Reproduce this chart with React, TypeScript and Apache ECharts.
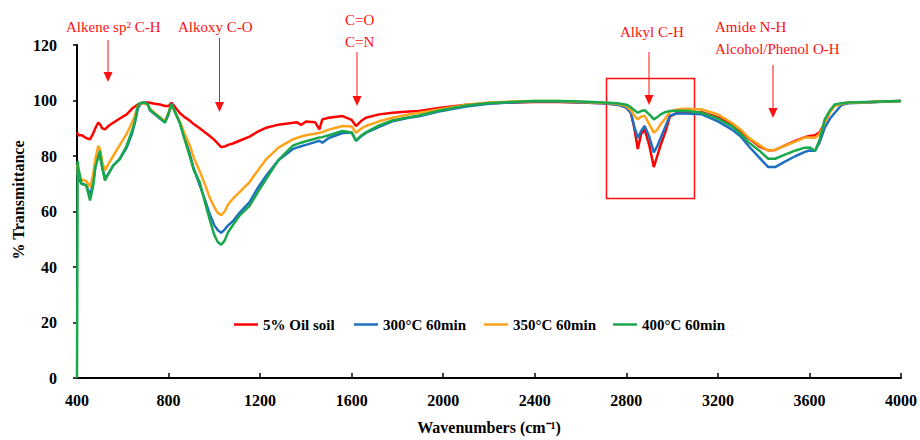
import React, { useEffect, useRef } from "react";
import * as echarts from "echarts";

const wavenumbers = [
  400, 403, 405, 420, 440, 457, 470, 480, 493, 500, 510, 522, 540, 558, 587, 617, 640, 653, 667, 680, 696, 710, 718, 740, 762, 784, 800, 813, 830, 849, 870, 892, 910, 936, 960, 980, 1000, 1015, 1030, 1045, 1060, 1081, 1110, 1154, 1190, 1227, 1280, 1343, 1360, 1379, 1400, 1440, 1459, 1472, 1500, 1560, 1600, 1619, 1640, 1662, 1720, 1778, 1850, 1895, 1980, 2100, 2200, 2300, 2400, 2500, 2600, 2700, 2760, 2800, 2820, 2835, 2850, 2865, 2880, 2900, 2920, 2935, 2950, 2970, 2990, 3020, 3060, 3130, 3200, 3260, 3300, 3333, 3380, 3420, 3450, 3493, 3540, 3580, 3600, 3625, 3645, 3667, 3690, 3711, 3740, 3769, 3850, 3950, 4000,
];

const oilSoil = [
  88.5, 88, 87.5, 87.5, 86.5, 86, 88, 90, 92, 91.5, 90, 89.6, 91, 92, 93.5, 95, 97, 97.8, 98.6, 99, 99.3, 99.3, 99.2, 98.8, 98.6, 98, 98, 99.2, 97.5, 95.5, 94, 92.8, 91.5, 90, 88.5, 87.2, 85.8, 84.5, 83.2, 83.4, 84, 84.5, 85.5, 87, 88.8, 90.2, 91.3, 92, 92.2, 91.2, 92.4, 92.2, 89.6, 93.2, 93.8, 94.4, 93, 90.8, 92.5, 93.8, 95, 95.6, 96, 96.2, 97.3, 98.5, 99, 99.3, 99.5, 99.5, 99.3, 99, 98.6, 97.5, 95.5, 90, 82.5, 88, 89.5, 84, 76, 80, 84, 88.5, 94.2, 95.5, 95.6, 95.8, 94, 91.5, 89, 86.5, 83.5, 82, 82.2, 83.8, 85.5, 86.8, 87.2, 87.5, 88.5, 92, 96, 98.3, 98.8, 99.2, 99.4, 99.7, 99.8,
];

const c300 = [
  75, 75, 72, 70, 69.5, 66, 70, 76, 80.5, 80, 76, 72, 74, 76.5, 79, 83, 88, 92, 97.5, 99, 99.2, 98.5, 96.5, 95, 93.5, 92.2, 95, 98.8, 95.5, 92, 86.5, 81, 75.5, 69.5, 64, 59, 55, 53.3, 52.3, 53.5, 55, 56.5, 59.5, 63.4, 68.5, 73, 78.5, 82.5, 83, 83.5, 84, 85, 85.5, 84.8, 86.5, 88.3, 88.5, 85.5, 87, 88.3, 90.5, 92.5, 93.8, 94.3, 96, 97.8, 98.8, 99.3, 99.6, 99.6, 99.3, 99, 98.5, 97.5, 95.5, 90.5, 86.5, 89, 90.8, 87, 81.3, 83.5, 86.5, 90.5, 94.5, 95.3, 95.3, 95, 92.5, 89.6, 87, 83.7, 79.5, 76, 76, 78, 80, 81.5, 82, 81.9, 85, 90.2, 93.5, 95.6, 98.4, 99, 99.3, 99.6, 99.8,
];

const c350 = [
  77, 77, 73, 71.5, 71, 68.8, 73, 79, 83.7, 82.5, 78, 74.8, 77.5, 80, 84, 88, 92, 94.5, 98.5, 99.2, 98.8, 98.5, 97, 95.5, 94, 92.6, 95.5, 98.6, 95.5, 92.5, 88, 84, 79.5, 74.5, 69.5, 65, 61.5, 59.5, 58.7, 60, 62.5, 64.6, 67, 70.6, 74.8, 78.9, 83, 86, 86.5, 87, 87.5, 88, 88.4, 88.6, 89.5, 90.8, 90.6, 88.4, 89.8, 90.8, 92.5, 93.8, 95, 95.6, 96.8, 98.5, 99.3, 99.6, 99.8, 99.8, 99.5, 99.2, 98.8, 98, 96.5, 94.5, 93.2, 94.2, 94.5, 91.5, 88.4, 89.5, 91.5, 93.5, 96, 96.8, 97, 96.8, 95, 92, 89.5, 86.7, 84, 81.9, 82.3, 83.7, 85.3, 86.7, 86.7, 86.6, 88, 92, 96, 98, 98.8, 99.2, 99.4, 99.7, 99.8,
];

const c400 = [
  0, 78.3, 76, 70, 69.4, 64, 69, 76, 79.5, 81.9, 76, 71.2, 74, 76.5, 78.9, 83.7, 89, 92.5, 98.6, 99.2, 99.2, 98.5, 96.8, 95.2, 93.8, 92, 95.5, 98.6, 95.5, 92, 86, 80.1, 75, 70.6, 63, 57, 51.5, 49, 48, 49.5, 52.5, 55.1, 58.5, 62, 67, 71.8, 78.5, 83.7, 84.3, 84.8, 85.3, 86.2, 86.7, 86.8, 87.5, 89, 88.5, 85.5, 87.3, 88.5, 91, 92.8, 94, 94.6, 96.3, 98.2, 99.1, 99.5, 99.8, 99.8, 99.6, 99.3, 99, 98.5, 97.5, 96.5, 95.6, 96.2, 96.5, 95, 93.2, 94, 95, 95.8, 96.2, 96.3, 96.3, 95.6, 93.5, 90.8, 88, 85, 82, 79, 79, 80.5, 82, 83, 83.1, 81.9, 86, 93.2, 96.5, 98.6, 99, 99.3, 99.5, 99.7, 99.8,
];

const seriesNames = ["5% Oil soil", "300°C 60min", "350°C 60min", "400°C 60min"];
const seriesColors = ["#FF0000", "#1F6FC0", "#FFA31A", "#19A84A"];
const seriesValues = [oilSoil, c300, c350, c400];

const legendLefts = [229, 349, 479, 608];

const RED = "#FF1010";
const SERIF = "Liberation Serif";

function arrow(x: number, y1: number, y2: number) {
  return [
    { type: "line", shape: { x1: x, y1, x2: x, y2: y2 - 8 }, style: { stroke: RED, lineWidth: 1 } },
    {
      type: "polygon",
      shape: { points: [[x - 4.5, y2 - 10], [x + 4.5, y2 - 10], [x, y2]] },
      style: { fill: RED },
    },
  ];
}

function label(text: string, x: number, y: number) {
  return {
    type: "text",
    x,
    y,
    style: {
      text,
      fill: RED,
      fontFamily: SERIF,
      fontSize: 15,
      textAlign: "left",
      textVerticalAlign: "middle",
      align: "left",
      verticalAlign: "middle",
    },
  };
}

export default function App() {
  const ref = useRef<HTMLDivElement>(null);
  useEffect(() => {
    if (!ref.current) return;
    const chart = echarts.init(ref.current, undefined, { renderer: "svg" });
    const series = seriesNames.map((name, i) => ({
      name,
      type: "line",
      data: wavenumbers.map((w, j) => [w, seriesValues[i][j]]),
      showSymbol: false,
      symbol: "none",
      lineStyle: { color: seriesColors[i], width: 2.5 },
      itemStyle: { color: seriesColors[i] },
      z: 2 + i,
    }));
    const legends = seriesNames.map((name, i) => ({
      data: [name],
      left: legendLefts[i],
      top: 312,
      icon: "rect",
      itemWidth: 24,
      itemHeight: 2.5,
      itemGap: 3,
      textStyle: { fontFamily: SERIF, fontWeight: "bold", fontSize: 15, color: "#000" },
    }));
    const tickFont = { fontFamily: SERIF, fontWeight: "bold", fontSize: 16, color: "#000" };
    chart.setOption({
      animation: false,
      backgroundColor: "#fff",
      grid: { left: 77, right: 17, top: 45, bottom: 59 },
      legend: legends,
      xAxis: {
        type: "value",
        min: 400,
        max: 4000,
        interval: 400,
        name: "Wavenumbers (cm⁻¹)",
        nameLocation: "middle",
        nameGap: 41,
        nameTextStyle: tickFont,
        axisLine: { show: true, onZero: false, lineStyle: { color: "#000", width: 2 } },
        axisTick: { show: true, inside: true, length: 5, lineStyle: { color: "#000", width: 1.5 } },
        axisLabel: { margin: 14, ...tickFont, formatter: (v: number) => String(v) },
        splitLine: { show: false },
      },
      yAxis: {
        type: "value",
        min: 0,
        max: 120,
        interval: 20,
        axisLine: { show: true, lineStyle: { color: "#000", width: 2 } },
        axisTick: { show: true, inside: false, length: 4, lineStyle: { color: "#000", width: 1.5 } },
        axisLabel: { margin: 20, ...tickFont, formatter: (v: number) => String(v) },
        splitLine: { show: false },
      },
      graphic: [
        {
          type: "text",
          x: 18,
          y: 200,
          rotation: Math.PI / 2,
          style: {
            text: "% Transmittance",
            fill: "#000",
            fontFamily: SERIF,
            fontWeight: "bold",
            fontSize: 16,
            textAlign: "center",
            textVerticalAlign: "middle",
            align: "center",
            verticalAlign: "middle",
          },
        },
        label("Alkene sp² C-H", 66, 27),
        label("Alkoxy C-O", 178, 27),
        label("C=O", 345, 20),
        label("C=N", 345, 42),
        label("Alkyl C-H", 620, 32),
        label("Amide N-H", 715, 27),
        label("Alcohol/Phenol O-H", 715, 49),
        ...arrow(108, 40, 82),
        ...arrow(219.5, 38, 112),
        ...arrow(357, 52, 106),
        ...arrow(649, 52, 105),
        ...arrow(773, 65, 118),
        {
          type: "rect",
          shape: { x: 606.5, y: 78.5, width: 88, height: 120 },
          style: { fill: "none", stroke: RED, lineWidth: 1.5 },
        },
      ],
      series,
    });
    return () => chart.dispose();
  }, []);
  return (
    <div
      ref={ref}
      style={{ position: "fixed", left: 0, top: 0, width: 920, height: 440, background: "#fff" }}
    />
  );
}
